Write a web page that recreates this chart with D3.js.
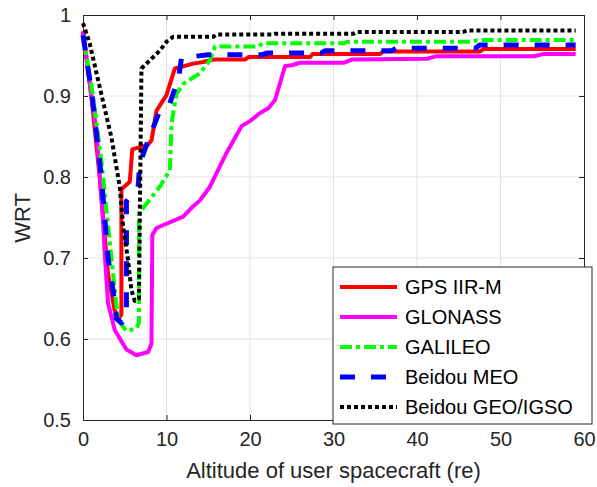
<!DOCTYPE html>
<html>
<head>
<meta charset="utf-8">
<script src="https://d3js.org/d3.v7.min.js"></script>
<style>
  body { margin: 0; background: #fff; }
  text { font-family: "Liberation Sans", Arial, sans-serif; }
</style>
</head>
<body>
<script>
// series: [altitude (re), WRT]
const gps = [[0,0.98],[1,0.9],[2,0.8],[3,0.68],[3.8,0.635],[4.4,0.627],[4.6,0.63],[4.6,0.785],[5.6,0.794],[5.9,0.834],
  [6.8,0.837],[7.7,0.839],[8.2,0.845],[8.8,0.882],[10,0.901],[11,0.934],[13.2,0.94],[14.4,0.942],[15.6,0.945],[19.4,0.945],
  [19.8,0.948],[27.2,0.948],[27.5,0.952],[35.6,0.952],[36,0.955],[47.5,0.955],[48,0.958],[59,0.958]];
const glonass = [[0,0.98],[1,0.9],[1.6,0.858],[2.4,0.746],[2.6,0.706],[3,0.644],[3.8,0.611],[5.2,0.587],[6.4,0.58],[7.8,0.584],
  [8.2,0.594],[8.3,0.728],[8.8,0.737],[12,0.751],[13.2,0.764],[14,0.771],[15.2,0.788],[17.2,0.83],[19,0.863],[20,0.869],
  [21.2,0.879],[22.2,0.885],[23,0.895],[24.2,0.937],[25,0.938],[26,0.941],[31.2,0.941],[32.2,0.945],[41.2,0.946],[42.2,0.949],
  [54,0.949],[55.2,0.952],[59,0.952]];
const galileo = [[0,0.975],[1.2,0.9],[2.2,0.82],[3.2,0.72],[4.2,0.623],[5.2,0.61],[6.4,0.613],[6.7,0.62],[6.7,0.755],[7.6,0.767],
  [9.2,0.788],[10.4,0.808],[10.6,0.866],[11.2,0.903],[12,0.915],[14,0.928],[15.2,0.944],[15.8,0.961],[21,0.961],[21.5,0.965],
  [31.2,0.965],[31.7,0.967],[46.7,0.967],[47.2,0.969],[59,0.969]];
const beidouMeo = [[0,0.975],[1.1,0.9],[2.2,0.8],[3,0.7],[3.6,0.66],[4,0.625],[4.6,0.62],[5.2,0.625],[5.2,0.77],[6.6,0.788],
  [6.8,0.817],[7.8,0.845],[9.2,0.882],[10.4,0.891],[11,0.909],[11.4,0.919],[11.8,0.947],[15,0.951],[21.5,0.951],[22,0.953],
  [28.5,0.953],[29,0.956],[37,0.956],[37.5,0.959],[47,0.959],[47.5,0.963],[59,0.963]];
const beidouGeo = [[0,0.99],[0.8,0.965],[2,0.911],[3.4,0.849],[4.4,0.788],[4.8,0.74],[5.4,0.697],[5.8,0.66],[6.2,0.647],
  [6.7,0.65],[7,0.934],[8,0.944],[9.2,0.956],[10,0.967],[10.8,0.973],[15.6,0.973],[16,0.976],[22.6,0.976],[23,0.977],
  [32.4,0.977],[32.8,0.979],[45.5,0.979],[46,0.981],[59,0.981]];

const seriesNames = ["GPS IIR-M", "GLONASS", "GALILEO", "Beidou MEO", "Beidou GEO/IGSO"];
const seriesColors = ["#ff0000", "#ff00ff", "#00ff00", "#0000ff", "#000000"];
const seriesDash = [null, null, "12,4,4,4", "15,16", "4,3"];
const seriesWidth = [4, 4, 4, 5, 4];
const xTicks = [0, 10, 20, 30, 40, 50, 60];
const yTicks = [0.5, 0.6, 0.7, 0.8, 0.9, 1];

const width = 597, height = 487;
const plotL = 83, plotR = 584, plotT = 15, plotB = 420;
const axisColor = "#262626";

const svg = d3.select("body").append("svg")
  .attr("width", width).attr("height", height);

const x = d3.scaleLinear().domain([0, 60]).range([plotL, plotR]);
const y = d3.scaleLinear().domain([0.5, 1]).range([plotB, plotT]);

// grid
svg.append("g").selectAll("line").data(xTicks.slice(1, -1)).enter().append("line")
  .attr("x1", d => x(d)).attr("x2", d => x(d)).attr("y1", plotT).attr("y2", plotB)
  .attr("stroke", "#e3e3e3").attr("stroke-width", 1);
svg.append("g").selectAll("line").data(yTicks.slice(1, -1)).enter().append("line")
  .attr("y1", d => y(d)).attr("y2", d => y(d)).attr("x1", plotL).attr("x2", plotR)
  .attr("stroke", "#e3e3e3").attr("stroke-width", 1);

// axes, MATLAB style: inner ticks on all four sides
function styleAxis(g) {
  g.select(".domain").attr("stroke", axisColor).attr("stroke-width", 1);
  g.selectAll(".tick line").attr("stroke", axisColor);
  g.selectAll(".tick text").attr("fill", axisColor).attr("font-size", 20)
    .attr("font-family", "'Liberation Sans', Arial, sans-serif");
}
svg.append("g").attr("transform", `translate(0,${plotB})`)
  .call(d3.axisBottom(x).tickValues(xTicks).tickSizeInner(-5).tickSizeOuter(0).tickPadding(12))
  .call(styleAxis);
svg.append("g").attr("transform", `translate(0,${plotT})`)
  .call(d3.axisTop(x).tickValues(xTicks).tickSizeInner(-5).tickSizeOuter(0).tickFormat(""))
  .call(styleAxis);
svg.append("g").attr("transform", `translate(${plotL},0)`)
  .call(d3.axisLeft(y).tickValues(yTicks).tickSizeInner(-5).tickSizeOuter(0).tickPadding(12)
    .tickFormat(d => d === 1 ? "1" : d3.format(".1f")(d)))
  .call(styleAxis);
svg.append("g").attr("transform", `translate(${plotR},0)`)
  .call(d3.axisRight(y).tickValues(yTicks).tickSizeInner(-5).tickSizeOuter(0).tickFormat(""))
  .call(styleAxis);

// lines
const line = d3.line().x(d => x(d[0])).y(d => y(d[1]));
const allSeries = [gps, glonass, galileo, beidouMeo, beidouGeo];
allSeries.forEach((s, i) => {
  svg.append("path").datum(s)
    .attr("d", line)
    .attr("fill", "none")
    .attr("stroke", seriesColors[i])
    .attr("stroke-width", seriesWidth[i])
    .attr("stroke-dasharray", seriesDash[i])
    .attr("stroke-linejoin", "round");
});

// axis titles
svg.append("text").attr("x", (plotL + plotR) / 2).attr("y", 478)
  .attr("text-anchor", "middle").attr("font-size", 22).attr("fill", axisColor)
  .text("Altitude of user spacecraft (re)");
svg.append("text").attr("transform", "translate(30,218) rotate(-90)")
  .attr("text-anchor", "middle").attr("font-size", 22).attr("fill", axisColor)
  .text("WRT");

// legend
const lg = svg.append("g").attr("transform", "translate(333,267)");
lg.append("rect").attr("width", 259).attr("height", 157)
  .attr("fill", "#fff").attr("stroke", axisColor).attr("stroke-width", 1);
seriesNames.forEach((name, i) => {
  const ry = 20 + i * 30;
  lg.append("line").attr("x1", 7).attr("x2", 64).attr("y1", ry).attr("y2", ry)
    .attr("stroke", seriesColors[i]).attr("stroke-width", seriesWidth[i])
    .attr("stroke-dasharray", seriesDash[i]);
  lg.append("text").attr("x", 72).attr("y", ry + 7).attr("font-size", 20).attr("fill", "#000")
    .text(name);
});
</script>
</body>
</html>
